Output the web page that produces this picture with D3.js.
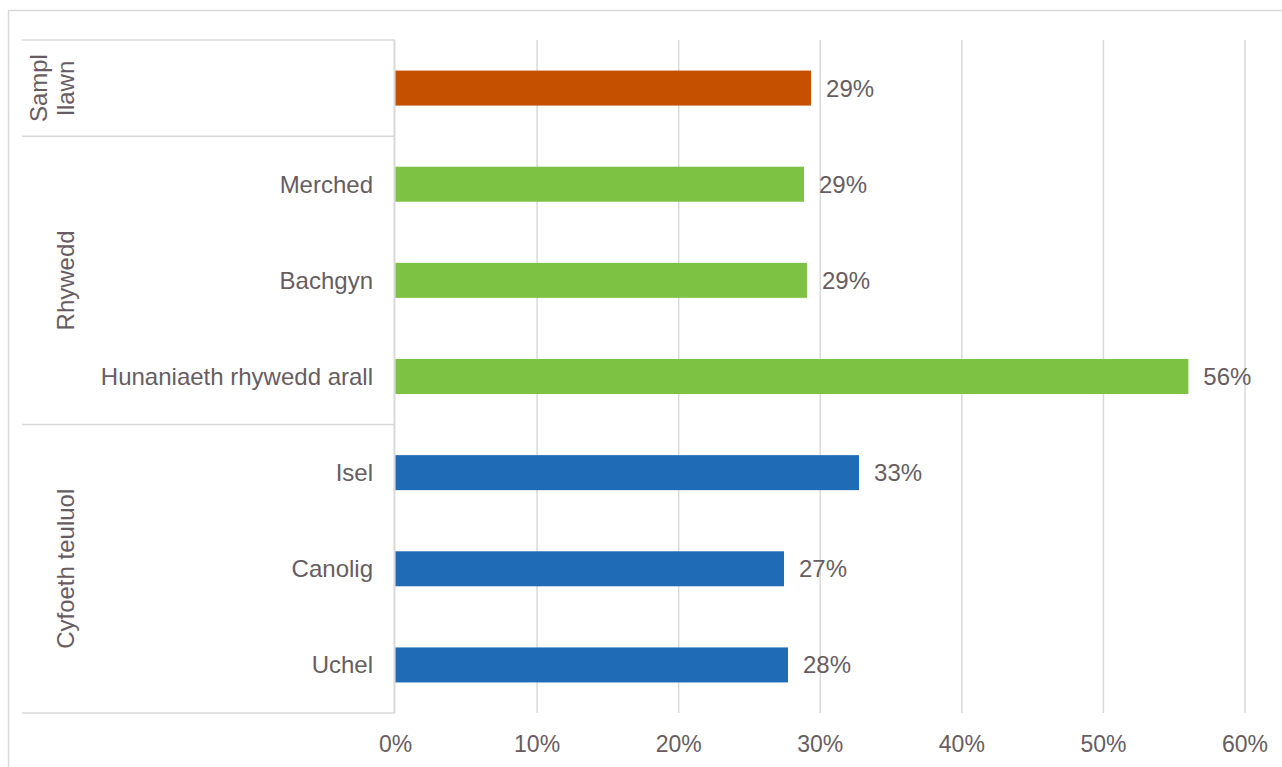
<!DOCTYPE html>
<html>
<head>
<meta charset="utf-8">
<script src="https://cdn.jsdelivr.net/npm/d3@7"></script>
<style>
  html, body { margin: 0; padding: 0; background: #fff; }
  svg { display: block; }
  text { font-family: "Liberation Sans", Arial, sans-serif; fill: #675d61; }
</style>
</head>
<body>
<svg id="chart" width="1282" height="767"></svg>
<script>
// ---- data ----
const categories = ["Sampl llawn", "Merched", "Bachgyn", "Hunaniaeth rhywedd arall", "Isel", "Canolig", "Uchel"];
const categoryLabels = ["", "Merched", "Bachgyn", "Hunaniaeth rhywedd arall", "Isel", "Canolig", "Uchel"];
const values = [29.35, 28.85, 29.06, 56.0, 32.74, 27.44, 27.72];
const valueLabels = ["29%", "29%", "29%", "56%", "33%", "27%", "28%"];
const groupOf = ["Sampl llawn", "Rhywedd", "Rhywedd", "Rhywedd", "Cyfoeth teuluol", "Cyfoeth teuluol", "Cyfoeth teuluol"];
const groups = ["Sampl llawn", "Rhywedd", "Cyfoeth teuluol"];
const groupLines = [["Sampl", "llawn"], ["Rhywedd"], ["Cyfoeth teuluol"]];
const groupColors = ["#C55000", "#7DC243", "#1F6BB5"];
const ticks = [0, 10, 20, 30, 40, 50, 60];
const tickLabels = ["0%", "10%", "20%", "30%", "40%", "50%", "60%"];

// ---- layout ----
const svg = d3.select("#chart");
const plot = { left: 395.5, right: 1245, top: 40, bottom: 713 };
const labelLeft = 22;
const grid = "#d9d9d9";

const x = d3.scaleLinear().domain([0, 60]).range([plot.left, plot.right]);
const y = d3.scaleBand().domain(categories).range([plot.top, plot.bottom])
  .paddingInner(0.636).paddingOuter(0.318);
const color = d3.scaleOrdinal().domain(groups).range(groupColors);

// outer frame
svg.append("line").attr("x1", 8.5).attr("x2", 8.5).attr("y1", 10).attr("y2", 767)
  .attr("stroke", grid).attr("stroke-width", 1.5);
svg.append("line").attr("x1", 8.5).attr("x2", 1282).attr("y1", 10.5).attr("y2", 10.5)
  .attr("stroke", grid).attr("stroke-width", 1.5);

// gridlines
svg.append("g").selectAll("line").data(ticks.slice(1)).join("line")
  .attr("x1", d => x(d)).attr("x2", d => x(d))
  .attr("y1", plot.top).attr("y2", plot.bottom)
  .attr("stroke", grid).attr("stroke-width", 1.5);

// category axis line
svg.append("line").attr("x1", x(0) - 1).attr("x2", x(0) - 1)
  .attr("y1", plot.top).attr("y2", plot.bottom)
  .attr("stroke", grid).attr("stroke-width", 2);

// group separator lines
const step = y.step();
const groupBounds = groups.map(g => {
  const idx = categories.map((c, i) => i).filter(i => groupOf[i] === g);
  const first = idx[0], last = idx[idx.length - 1];
  return { g, y0: plot.top + first * step, y1: plot.top + (last + 1) * step };
});
const sepYs = [plot.top].concat(groupBounds.map(b => b.y1));
svg.append("g").selectAll("line").data(sepYs).join("line")
  .attr("x1", labelLeft).attr("x2", x(0) - 1)
  .attr("y1", d => d).attr("y2", d => d)
  .attr("stroke", grid).attr("stroke-width", 1.5);

// bars
svg.append("g").selectAll("rect").data(categories).join("rect")
  .attr("x", x(0))
  .attr("y", d => y(d))
  .attr("width", (d, i) => x(values[i]) - x(0))
  .attr("height", y.bandwidth())
  .attr("fill", (d, i) => color(groupOf[i]));

// value labels
svg.append("g").selectAll("text").data(categories).join("text")
  .attr("x", (d, i) => x(values[i]) + 15)
  .attr("y", d => y(d) + y.bandwidth() / 2 + 8.5)
  .attr("font-size", 24)
  .text((d, i) => valueLabels[i]);

// category labels
svg.append("g").selectAll("text").data(categories).join("text")
  .attr("x", 373)
  .attr("y", d => y(d) + y.bandwidth() / 2 + 8.5)
  .attr("text-anchor", "end")
  .attr("font-size", 24)
  .text((d, i) => categoryLabels[i]);

// group labels (rotated)
groupBounds.forEach((b, gi) => {
  const lines = groupLines[gi];
  const cy = (b.y0 + b.y1) / 2;
  const baseX = 74;
  lines.forEach((ln, li) => {
    const bx = baseX - (lines.length - 1 - li) * 27;
    svg.append("text")
      .attr("transform", `translate(${bx},${cy}) rotate(-90)`)
      .attr("text-anchor", "middle")
      .attr("font-size", 24)
      .text(ln);
  });
});

// x-axis tick labels
svg.append("g").selectAll("text").data(ticks).join("text")
  .attr("x", d => x(d))
  .attr("y", 752)
  .attr("text-anchor", "middle")
  .attr("font-size", 23)
  .style("font-family", "'Liberation Sans Narrow', 'Arial Narrow', sans-serif")
  .text((d, i) => tickLabels[i]);
</script>
</body>
</html>
